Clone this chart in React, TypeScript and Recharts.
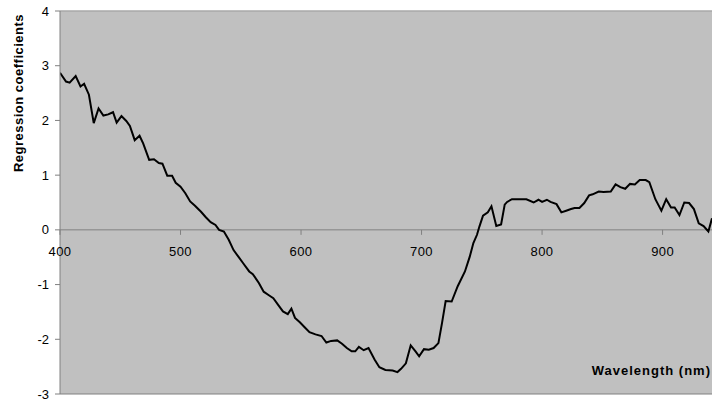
import { CartesianGrid, Label, Line, LineChart, ReferenceDot, ReferenceLine, XAxis, YAxis } from 'recharts';

const WAVELENGTH = [
  400, 405, 408, 413, 417, 420, 424, 428, 432, 436, 440, 444, 447, 451, 455, 458, 462, 466, 469,
  474, 478, 482, 485, 489, 493, 496, 500, 504, 508, 512, 517, 521, 525, 529, 532, 536, 540, 544,
  548, 552, 557, 560, 565, 569, 573, 577, 581, 585, 589, 592, 595, 599, 603, 607, 612, 617, 621,
  625, 630, 634, 638, 642, 645, 648, 652, 656, 661, 665, 670, 676, 680, 683, 687, 691, 695, 698,
  702, 706, 710, 714, 717, 720, 725, 730, 736, 740, 743, 746, 748, 751, 755, 758, 762, 766, 769,
  771, 775, 779, 787, 793, 797, 800, 804, 807, 812, 816, 820, 824, 827, 831, 835, 839, 842, 847,
  851, 857, 861, 865, 869, 873, 877, 881, 886, 889, 894, 899, 903, 907, 910, 914, 918, 922, 926,
  930, 934, 938, 941,
];

const COEFF = [
  2.87, 2.71, 2.69, 2.81, 2.62, 2.67, 2.47, 1.95, 2.22, 2.09, 2.11, 2.15, 1.96, 2.08, 1.99, 1.9,
  1.64, 1.72, 1.58, 1.28, 1.29, 1.22, 1.21, 0.99, 0.99, 0.86, 0.79, 0.67, 0.52, 0.44, 0.33, 0.23,
  0.14, 0.09, 0.0, -0.03, -0.18, -0.37, -0.49, -0.61, -0.76, -0.81, -0.97, -1.13, -1.19, -1.25,
  -1.37, -1.49, -1.54, -1.44, -1.61, -1.69, -1.78, -1.87, -1.91, -1.94, -2.06, -2.03, -2.02, -2.08,
  -2.16, -2.22, -2.22, -2.14, -2.2, -2.16, -2.37, -2.51, -2.56, -2.57, -2.6, -2.54, -2.44, -2.11,
  -2.22, -2.31, -2.18, -2.19, -2.16, -2.07, -1.7, -1.3, -1.31, -1.03, -0.76, -0.49, -0.24, -0.09,
  0.06, 0.26, 0.32, 0.43, 0.07, 0.1, 0.46, 0.51, 0.56, 0.56, 0.56, 0.5, 0.55, 0.51, 0.55, 0.51,
  0.47, 0.32, 0.35, 0.38, 0.4, 0.4, 0.49, 0.63, 0.65, 0.7, 0.69, 0.7, 0.83, 0.78, 0.75, 0.84, 0.83,
  0.91, 0.91, 0.87, 0.56, 0.35, 0.56, 0.41, 0.41, 0.27, 0.5, 0.49, 0.38, 0.12, 0.07, -0.03, 0.21,
];

const X_TICKS = [400, 500, 600, 700, 800, 900];
const Y_TICKS = [-3, -2, -1, 0, 1, 2, 3, 4];

const data = WAVELENGTH.map((w, i) => ({ w, v: COEFF[i] }));

const FONT = 'Arial, "Liberation Sans", sans-serif';
const AXIS_GREY = '#808080';

// x-axis sits on the zero line, so its ticks and labels are drawn as reference dots
function ZeroTick(props: any) {
  const { cx, cy, label } = props;
  return (
    <g>
      <line x1={cx} y1={cy} x2={cx} y2={cy + 5} stroke={AXIS_GREY} strokeWidth={1} />
      <text
        x={cx}
        y={cy + 26}
        textAnchor="middle"
        fontSize={13}
        letterSpacing={0.4}
        fontFamily={FONT}
        fill="#000"
      >
        {label}
      </text>
    </g>
  );
}

export default function App() {
  return (
    <div style={{ position: 'absolute', left: 0, top: 0, width: 712, height: 401, background: '#fff' }}>
      <LineChart width={712} height={401} data={data} margin={{ top: 11, right: 0, bottom: 7, left: 0 }}>
        <CartesianGrid fill="#c0c0c0" horizontal={false} vertical={false} />
        <XAxis dataKey="w" type="number" domain={[400, 941]} allowDataOverflow hide />
        <YAxis
          type="number"
          domain={[-3, 4]}
          ticks={Y_TICKS}
          width={60}
          interval={0}
          tickSize={5}
          tickMargin={6}
          axisLine={{ stroke: AXIS_GREY }}
          tickLine={{ stroke: AXIS_GREY }}
          tick={{ fill: '#000', fontSize: 13, fontFamily: FONT }}
        >
          <Label
            content={() => (
              <g>
                <text
                  x={23}
                  y={93}
                  transform="rotate(-90 23 93)"
                  textAnchor="middle"
                  fontSize={13}
                  letterSpacing={0.5}
                  fontWeight="bold"
                  fontFamily={FONT}
                  fill="#000"
                >
                  Regression coefficients
                </text>
                <text
                  x={711}
                  y={375}
                  textAnchor="end"
                  fontSize={13}
                  letterSpacing={1}
                  fontWeight="bold"
                  fontFamily={FONT}
                  fill="#000"
                >
                  Wavelength (nm)
                </text>
              </g>
            )}
          />
        </YAxis>
        <ReferenceLine y={4} stroke="#a8a8a8" strokeWidth={1.5} />
        <ReferenceLine y={-3} stroke={AXIS_GREY} />
        <ReferenceLine y={0} stroke={AXIS_GREY} />
        {X_TICKS.map((t) => (
          <ReferenceDot
            key={t}
            x={t}
            y={0}
            r={0}
            ifOverflow="visible"
            shape={(p: any) => <ZeroTick {...p} label={t} />}
          />
        ))}
        <Line dataKey="v" type="linear" stroke="#000" strokeWidth={2} dot={false} isAnimationActive={false} />
      </LineChart>
    </div>
  );
}
